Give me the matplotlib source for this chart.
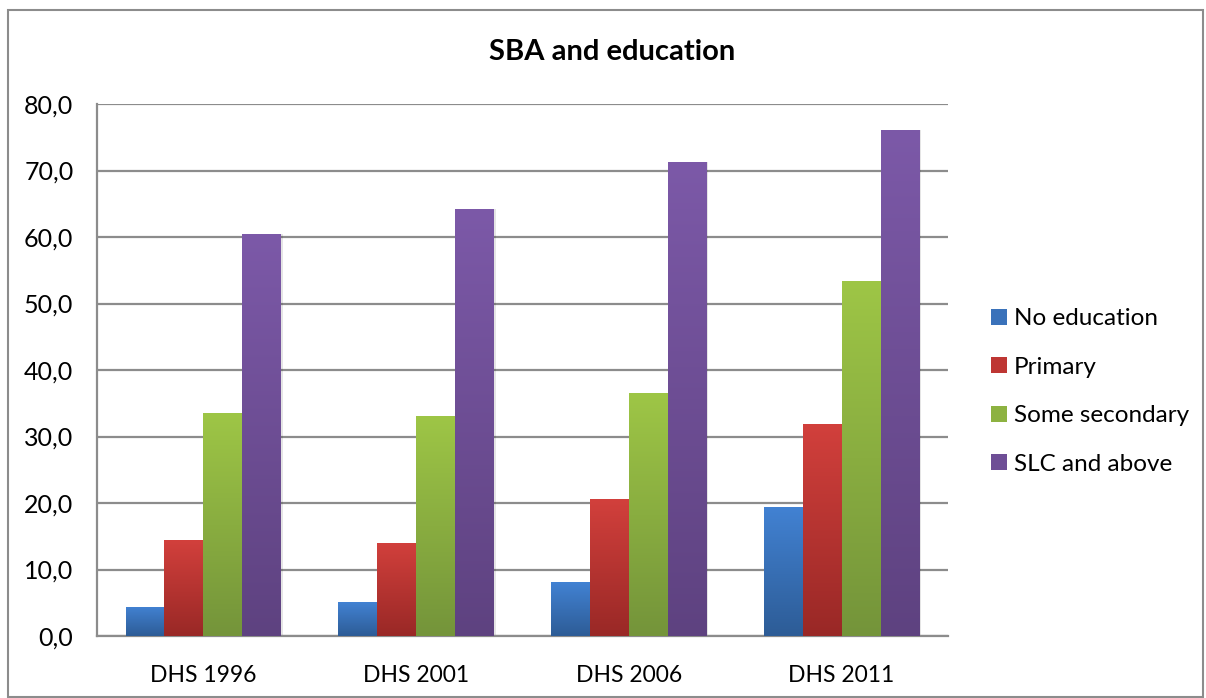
import matplotlib
matplotlib.use("Agg")
import matplotlib.pyplot as plt
import numpy as np
from matplotlib.colors import LinearSegmentedColormap
from matplotlib.patches import Rectangle

categories = ["DHS 1996", "DHS 2001", "DHS 2006", "DHS 2011"]
series_names = ["No education", "Primary", "Some secondary", "SLC and above"]
no_education = [4.4, 5.1, 8.1, 19.4]
primary = [14.4, 14.0, 20.6, 31.9]
some_secondary = [33.5, 33.1, 36.5, 53.4]
slc_and_above = [60.4, 64.2, 71.3, 76.1]
y_ticks = [0, 10, 20, 30, 40, 50, 60, 70, 80]

series_values = [no_education, primary, some_secondary, slc_and_above]
top_colors = ["#4282D3", "#D2403C", "#9EC646", "#7C59A8"]
bottom_colors = ["#2D5C96", "#992826", "#74943A", "#5E4280"]
legend_colors = ["#3A72BA", "#BE3633", "#8DB241", "#6E4E96"]

plt.rcParams['font.family'] = ['Lato', 'DejaVu Sans']

fig = plt.figure(figsize=(12.06, 6.98), dpi=100)
ax = fig.add_axes([97/1206, 1-636/698, (948-97)/1206, (636-104)/698])

x = np.arange(len(categories))
width = 0.183
offsets = (np.arange(4) - 1.5) * width

for i, vals in enumerate(series_values):
    cmap = LinearSegmentedColormap.from_list(f"g{i}", [bottom_colors[i], top_colors[i]])
    bars = ax.bar(x + offsets[i], vals, width, color=legend_colors[i], zorder=3,
                  label=series_names[i], linewidth=0)
    for b in bars:
        bx, by = b.get_x(), b.get_y()
        bw, bh = b.get_width(), b.get_height()
        sh = Rectangle((bx + 0.008, by), bw, bh, facecolor="#000000", alpha=0.10,
                       zorder=2.5, linewidth=0)
        ax.add_patch(sh)
        grad = np.linspace(0, 1, 256).reshape(-1, 1)
        im = ax.imshow(grad, cmap=cmap, origin="lower", aspect="auto",
                       extent=[bx, bx + bw, by, by + bh], zorder=3.5)
        im.set_clip_path(b)

ax.set_xlim(-0.5, len(categories) - 0.5)
ax.set_ylim(0, 80)
ax.set_yticks(y_ticks)
ax.set_yticklabels([f"{v:.1f}".replace(".", ",") for v in y_ticks])
ax.set_xticks(x)
ax.set_xticklabels(categories)
ax.yaxis.grid(True, color="#8C8C8C", linewidth=1.6, zorder=0)
ax.set_axisbelow(True)
for s in ["top", "right"]:
    ax.spines[s].set_visible(False)
for s in ["left", "bottom"]:
    ax.spines[s].set_color("#8C8C8C")
    ax.spines[s].set_linewidth(1.6)
ax.tick_params(axis="y", length=0, labelsize=18, pad=17)
ax.tick_params(axis="x", length=0, labelsize=16.5, pad=21)

fig.text(612/1206, 1 - 52/698, "SBA and education", ha="center", va="center",
         fontsize=21, fontweight="bold")

handles = [Rectangle((0, 0), 1, 1, facecolor=c) for c in legend_colors]
leg = fig.legend(handles, series_names, loc="center left",
                 bbox_to_anchor=(969/1206, 1 - 391.5/698), frameon=False,
                 fontsize=17.5, handlelength=0.65, handleheight=0.65,
                 handletextpad=0.3, labelspacing=1.13)

border = Rectangle((8/1206, 1 - 697/698), (1203-8)/1206, (697-10)/698,
                   transform=fig.transFigure, fill=False, edgecolor="#8C8C8C",
                   linewidth=1.5)
fig.patches.append(border)

fig.savefig("out.png", dpi=100, facecolor="white")
